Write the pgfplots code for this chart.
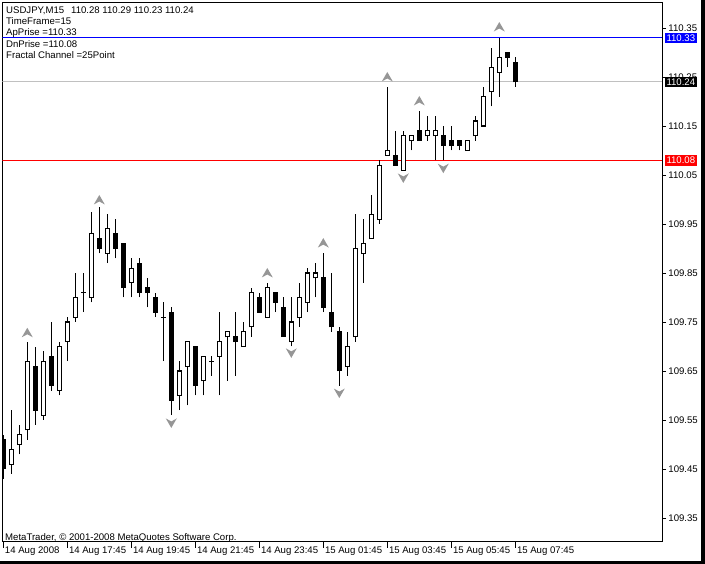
\documentclass[border=0pt]{standalone}
\usepackage{pgfplots}
\pgfplotsset{compat=1.18}
\usepackage{pgfplotstable}
\usepackage{fontspec}
\setmainfont{Liberation Sans}
\definecolor{fracgray}{RGB}{150,150,150}
\definecolor{bidgray}{RGB}{192,192,192}
\definecolor{mtblue}{RGB}{0,0,255}
\definecolor{mtred}{RGB}{255,0,0}
\newcommand\ft{\fontsize{9.6}{11}\selectfont}
\pgfdeclareplotmark{fup}{%
  \pgfpathmoveto{\pgfqpoint{0pt}{5pt}}%
  \pgfpathlineto{\pgfqpoint{5.5pt}{-4.5pt}}%
  \pgfpathlineto{\pgfqpoint{0pt}{-1.5pt}}%
  \pgfpathlineto{\pgfqpoint{-5.5pt}{-4.5pt}}%
  \pgfpathclose\pgfusepathqfill}
\pgfdeclareplotmark{fdown}{%
  \pgfpathmoveto{\pgfqpoint{0pt}{-5pt}}%
  \pgfpathlineto{\pgfqpoint{5.5pt}{4.5pt}}%
  \pgfpathlineto{\pgfqpoint{0pt}{1.5pt}}%
  \pgfpathlineto{\pgfqpoint{-5.5pt}{4.5pt}}%
  \pgfpathclose\pgfusepathqfill}
\pgfplotstableread{
x O H L C
0 109.51 109.52 109.43 109.45
1 109.46 109.57 109.44 109.49
2 109.50 109.54 109.48 109.52
3 109.53 109.71 109.51 109.67
4 109.66 109.70 109.54 109.57
5 109.56 109.69 109.55 109.67
6 109.68 109.75 109.61 109.62
7 109.61 109.71 109.60 109.70
8 109.71 109.76 109.67 109.75
9 109.76 109.85 109.75 109.80
10 109.81 109.85 109.77 109.81
11 109.80 109.975 109.79 109.93
12 109.92 109.985 109.89 109.90
13 109.89 109.97 109.87 109.94
14 109.93 109.96 109.88 109.90
15 109.91 109.91 109.80 109.82
16 109.83 109.88 109.80 109.86
17 109.87 109.88 109.80 109.81
18 109.82 109.84 109.78 109.81
19 109.80 109.81 109.76 109.77
20 109.76 109.79 109.67 109.76
21 109.77 109.78 109.56 109.59
22 109.60 109.67 109.57 109.65
23 109.66 109.71 109.58 109.71
24 109.70 109.70 109.60 109.62
25 109.63 109.68 109.60 109.68
26 109.67 109.68 109.64 109.67
27 109.68 109.77 109.60 109.71
28 109.72 109.73 109.63 109.73
29 109.72 109.77 109.64 109.71
30 109.70 109.75 109.70 109.73
31 109.74 109.82 109.72 109.81
32 109.80 109.81 109.77 109.77
33 109.76 109.83 109.76 109.82
34 109.81 109.81 109.77 109.79
35 109.78 109.80 109.72 109.72
36 109.71 109.80 109.70 109.75
37 109.76 109.83 109.74 109.80
38 109.79 109.86 109.77 109.85
39 109.84 109.87 109.80 109.85
40 109.84 109.89 109.77 109.78
41 109.77 109.85 109.73 109.74
42 109.73 109.74 109.62 109.65
43 109.66 109.73 109.64 109.70
44 109.72 109.97 109.71 109.90
45 109.89 109.96 109.83 109.91
46 109.92 110.01 109.92 109.97
47 109.96 110.08 109.95 110.07
48 110.09 110.23 110.09 110.10
49 110.09 110.14 110.07 110.07
50 110.06 110.14 110.06 110.13
51 110.12 110.13 110.10 110.13
52 110.14 110.18 110.12 110.12
53 110.13 110.17 110.12 110.14
54 110.13 110.17 110.08 110.14
55 110.13 110.15 110.08 110.11
56 110.12 110.15 110.10 110.11
57 110.12 110.12 110.10 110.11
58 110.10 110.12 110.10 110.12
59 110.13 110.17 110.12 110.16
60 110.15 110.23 110.15 110.21
61 110.22 110.31 110.19 110.27
62 110.26 110.33 110.21 110.29
63 110.30 110.30 110.27 110.29
64 110.28 110.29 110.23 110.24
}\candles
\pgfplotstableread{
x y
3 109.728
12 109.999
33 109.850
40 109.911
48 110.250
52 110.201
62 110.352
}\fracup
\pgfplotstableread{
x y
-0.45 109.336
21 109.544
36 109.687
42 109.605
50 110.044
55 110.064
}\fracdn
\begin{document}
\begin{tikzpicture}[x=1pt,y=1pt]
\begin{axis}[
  name=main,
  scale only axis, width=659.5pt, height=539.5pt,
  xmin=-0.1, xmax=82.3375, ymin=109.30102, ymax=110.40204,
  clip mode=individual,
  axis line style={line width=1pt, black},
  tick align=outside,
  xtick pos=left, ytick pos=right, yticklabel pos=right,
  xtick={0,8,16,24,32,40,48,56,64},
  xticklabels={14 Aug 2008,14 Aug 17:45,14 Aug 19:45,14 Aug 21:45,14 Aug 23:45,15 Aug 01:45,15 Aug 03:45,15 Aug 05:45,15 Aug 07:45},
  ytick={109.35,109.45,109.55,109.65,109.75,109.85,109.95,110.05,110.15,110.25,110.35},
  minor tick num=0,
  xtick style={black, line width=0.8pt, /pgfplots/major tick length=6pt},
  ytick style={black, line width=0.8pt, /pgfplots/major tick length=4pt},
  /pgf/number format/assume math mode=true,
  /pgf/number format/.cd, fixed, fixed zerofill, precision=2, /pgfplots/.cd,
  yticklabel style={font=\ft, anchor=west, inner sep=0pt, xshift=2pt},
  xticklabel style={font=\ft, anchor=north west, inner sep=0pt, xshift=1.5pt},
  scaled y ticks=false,
]
\addplot[bidgray, line width=1pt] coordinates {(-0.1,110.24) (82.3375,110.24)};
\addplot[mtred, line width=1.1pt] coordinates {(-0.1,110.08) (82.3375,110.08)};
\addplot[mtblue, line width=1.1pt] coordinates {(-0.1,110.33) (82.3375,110.33)};
% wicks
\addplot[draw=none, mark=none, error bars/.cd, y dir=plus, y explicit, error mark=none,
  error bar style={draw=black, line width=1.2pt}]
  table[x=x, y=L, y error expr={\thisrow{H}-\thisrow{L}}] {\candles};
% black bodies
\addplot[draw=none, mark=none, restrict expr to domain={\thisrow{C}-\thisrow{O}}{-1:0.001},
  error bars/.cd, y dir=plus, y explicit, error mark=none,
  error bar style={draw=black, line width=5pt}]
  table[x=x, y expr={\thisrow{C}-0.001}, y error expr={\thisrow{O}-\thisrow{C}+0.002}] {\candles};
% white bodies outline
\addplot[draw=none, mark=none, restrict expr to domain={\thisrow{C}-\thisrow{O}}{0.002:1},
  error bars/.cd, y dir=plus, y explicit, error mark=none,
  error bar style={draw=black, line width=5.4pt}]
  table[x=x, y expr={\thisrow{O}-0.0012}, y error expr={\thisrow{C}-\thisrow{O}+0.0024}] {\candles};
% white bodies fill
\addplot[draw=none, mark=none, restrict expr to domain={\thisrow{C}-\thisrow{O}}{0.002:1},
  error bars/.cd, y dir=plus, y explicit, error mark=none,
  error bar style={draw=white, line width=3pt}]
  table[x=x, y expr={\thisrow{O}+0.0012}, y error expr={\thisrow{C}-\thisrow{O}-0.0024}] {\candles};
% fractals
\addplot[only marks, mark=fup, color=fracgray, fill=fracgray] table[x=x,y=y] {\fracup};
\addplot[only marks, mark=fdown, color=fracgray, fill=fracgray] table[x=x,y=y] {\fracdn};
\coordinate (Lb) at (axis cs:82.3375,110.33);
\coordinate (Lr) at (axis cs:82.3375,110.08);
\coordinate (Lk) at (axis cs:82.3375,110.24);
\end{axis}
\pgfresetboundingbox
\path (main.south west) ++(-2.5,-22) coordinate (O);
\begin{scope}[shift={(O)}]
\useasboundingbox (0,0) rectangle (705,564);
\end{scope}
\tikzset{pl/.style={anchor=west, font=\ft, text=white, inner xsep=1.8pt, inner ysep=0pt,
  minimum height=10.5pt, text height=7pt, text depth=0pt, xshift=2.5pt}}
\node[pl, fill=mtblue] at (Lb) {110.33};
\node[pl, fill=mtred] at (Lr) {110.08};
\node[pl, fill=black] at (Lk) {110.24};
\begin{scope}[shift={(O)}, every node/.style={anchor=base west, font=\ft, inner sep=0pt}]
\node at (6,550) {USDJPY,M15\hspace{7pt}110.28 110.29 110.23 110.24};
\node at (6,539) {TimeFrame=15};
\node at (6,528) {ApPrise =110.33};
\node at (6,516.7) {DnPrise =110.08};
\node at (6,505.7) {Fractal Channel =25Point};
\node at (5,23.5) {MetaTrader, \textcopyright{} 2001-2008 MetaQuotes Software Corp.};
\fill[black] (700.5,0) rectangle (705,564);
\fill[black] (0,0) rectangle (705,3);
\end{scope}
\end{tikzpicture}
\end{document}
